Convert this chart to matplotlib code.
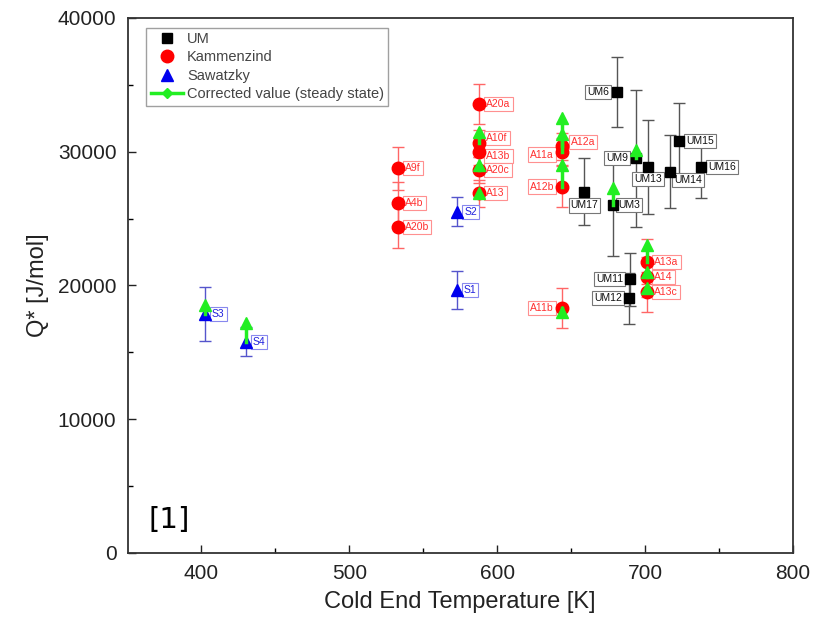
import matplotlib
matplotlib.use("Agg")
import matplotlib.pyplot as plt
from matplotlib.lines import Line2D

plt.rcParams["font.family"] = ["Liberation Sans", "DejaVu Sans"]

# UM data
um_labels = ["UM6", "UM9", "UM13", "UM17", "UM3", "UM14", "UM15", "UM16", "UM11", "UM12"]
um_x = [681, 694, 702, 659, 678, 717, 723, 738, 690, 689]
um_y = [34450, 29510, 28880, 27020, 26020, 28510, 30830, 28880, 20460, 19040]
um_err = [2600, 5100, 3500, 2500, 3800, 2740, 2800, 2350, 2000, 1900]

# Kammenzind data
kz_labels = ["A9f", "A4b", "A20b", "A20a", "A10f", "A13b", "A20c", "A13",
             "A11a", "A12a", "A12b", "A11b", "A13a", "A14", "A13c"]
kz_x = [533, 533, 533, 588, 588, 588, 588, 588,
        644, 644, 644, 644, 701.5, 701.5, 701.5]
kz_y = [28770, 26150, 24400, 33570, 30630, 30010, 28640, 26900,
        30000, 30400, 27400, 18300, 21780, 20660, 19540]
kz_err = [1600, 1600, 1600, 1500, 1000, 1000, 1000, 1000,
          1000, 1000, 1500, 1500, 1700, 1500, 1500]

# Sawatzky data
sw_labels = ["S3", "S4", "S1", "S2"]
sw_x = [402.4, 430, 572.6, 573]
sw_y = [17870, 15800, 19660, 25520]
sw_err = [2000, 1100, 1400, 1100]

# corrected values (steady state): x, original y, corrected y
corr_x = [402.4, 430, 588, 588, 588, 644, 644, 644, 644, 694, 678, 701.5, 701.5, 701.5]
corr_y0 = [17870, 15800, 30630, 28640, 26900, 30400, 30000, 27400, 18300,
           29510, 26020, 21780, 20660, 19540]
corr_y1 = [18540, 17170, 31500, 29010, 26950, 32500, 31300, 29000, 18000,
           30130, 27270, 23030, 21030, 19790]

# label offsets in points (dx, dy, ha)
um_off = [(-6, 0, "right"), (-6, 0, "right"), (0, -9, "center"), (0, -10, "center"),
          (4, 0, "left"), (3, -6, "left"), (5, 0, "left"), (5, 0, "left"),
          (-5, 0, "right"), (-5, 0, "right")]
kz_off = ([(5, 0, "left")] * 4 + [(5, 4, "left"), (5, -3, "left"), (5, 0, "left"), (5, 0, "left")]
          + [(-6, -2, "right"), (6, 3, "left"), (-6, 0, "right"),
             (-6, 0, "right"), (5, 0, "left"), (5, 0, "left"), (5, 0, "left")])
sw_off = [(5, 0, "left")] * 4


def label_points(ax, xs, ys, names, offs, color, edge):
    for x, y, name, (dx, dy, ha) in zip(xs, ys, names, offs):
        ax.annotate(name, (x, y), xytext=(dx, dy), textcoords="offset points",
                    ha=ha, va="center", fontsize=7.5, color=color,
                    bbox=dict(boxstyle="square,pad=0.2", fc="white", ec=edge, lw=0.8),
                    zorder=4)


fig = plt.figure(figsize=(8.15, 6.33), dpi=100)
ax = fig.add_axes([127.5 / 815, (633 - 553) / 633, 665.5 / 815, 535 / 633])

ax.errorbar(um_x, um_y, yerr=um_err, fmt="none", ecolor="#555555", elinewidth=1,
            capsize=4, zorder=2)
ax.errorbar(kz_x, kz_y, yerr=kz_err, fmt="none", ecolor="#ff6666", elinewidth=1,
            capsize=4, zorder=2)
ax.errorbar(sw_x, sw_y, yerr=sw_err, fmt="none", ecolor="#5555cc", elinewidth=1,
            capsize=4, zorder=2)

label_points(ax, um_x, um_y, um_labels, um_off, "#111111", "#777777")
label_points(ax, kz_x, kz_y, kz_labels, kz_off, "#ff3030", "#ff9090")
label_points(ax, sw_x, sw_y, sw_labels, sw_off, "#2020dd", "#8888ee")

ax.plot(um_x, um_y, "s", color="black", ms=7, ls="none", zorder=5)
ax.plot(kz_x, kz_y, "o", color="#ff0000", ms=9, ls="none", zorder=5)
ax.plot(sw_x, sw_y, "^", color="#0000ee", ms=9, ls="none", zorder=5)

for x, y0, y1 in zip(corr_x, corr_y0, corr_y1):
    ax.plot([x, x], [y0, y1], color="#22ee22", lw=2.5, zorder=6)
ax.plot(corr_x, corr_y1, "^", color="#22ee22", ms=9, ls="none", zorder=6)

ax.set_xlim(350, 800)
ax.set_ylim(0, 40000)
ax.set_xticks([400, 500, 600, 700, 800])
ax.set_xticks([450, 550, 650, 750], minor=True)
ax.set_yticks([0, 10000, 20000, 30000, 40000])
ax.set_yticks([5000, 15000, 25000, 35000], minor=True)
ax.tick_params(direction="in", length=6, width=1, labelsize=15, colors="#222222", pad=8)
ax.tick_params(which="minor", direction="in", length=3.5, width=1)
for sp in ax.spines.values():
    sp.set_linewidth(1.3)
    sp.set_color("#333333")

ax.set_xlabel("Cold End Temperature [K]", fontsize=17, color="#222222", labelpad=6)
ax.set_ylabel("Q* [J/mol]", fontsize=17, color="#222222", labelpad=6)

ax.text(0.032, 0.035, "[1]", transform=ax.transAxes, fontsize=21,
        family="DejaVu Sans", color="black", ha="left", va="bottom")

handles = [
    Line2D([], [], marker="s", color="black", ls="none", ms=7),
    Line2D([], [], marker="o", color="#ff0000", ls="none", ms=9),
    Line2D([], [], marker="^", color="#0000ee", ls="none", ms=9),
    Line2D([], [], marker="D", color="#22ee22", lw=2.5, ms=5),
]
leg = ax.legend(handles, ["UM", "Kammenzind", "Sawatzky", "Corrected value (steady state)"],
                loc="upper left", bbox_to_anchor=(0.028, 0.982), fontsize=10.5,
                frameon=True, fancybox=False, edgecolor="#888888", borderpad=0.3,
                labelspacing=0.3, handlelength=2.2, handletextpad=0.3, borderaxespad=0)
for t in leg.get_texts():
    t.set_color("#444444")

fig.savefig("out.png", dpi=100)
